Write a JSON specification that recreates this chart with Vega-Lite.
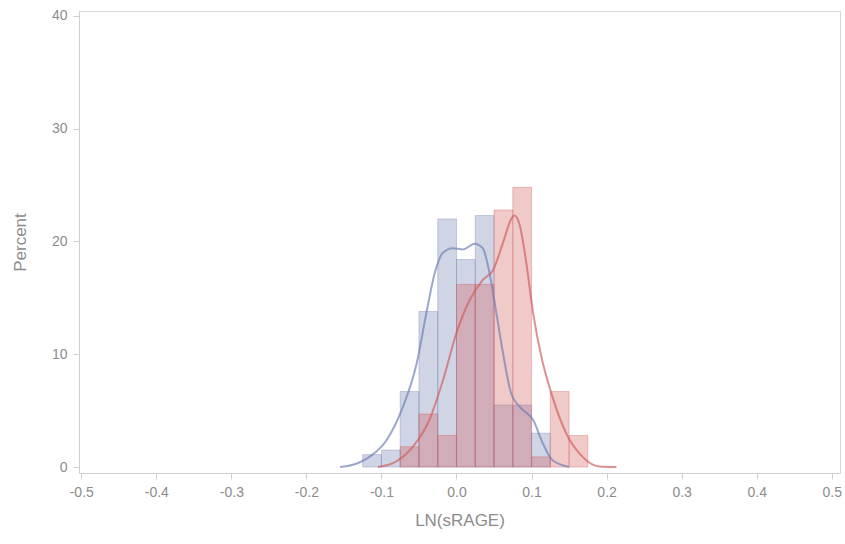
{
  "$schema": "https://vega.github.io/schema/vega-lite/v6.json",
  "width": 761,
  "height": 462,
  "autosize": {"type": "none"},
  "padding": {"left": 79, "top": 11, "right": 5, "bottom": 71},
  "background": "white",
  "config": {
    "view": {"stroke": "#d6d6d6", "strokeWidth": 1},
    "axis": {
      "grid": false,
      "labelColor": "#8c8c8c",
      "titleColor": "#8c8c8c",
      "tickColor": "#cfcfcf",
      "domainColor": "#cfcfcf",
      "labelFont": "Liberation Sans",
      "titleFont": "Liberation Sans",
      "labelFontSize": 14,
      "titleFontSize": 17,
      "titleFontWeight": "normal",
      "tickSize": 6,
      "labelPadding": 6
    }
  },
  "datasets": {
    "bars": [
      {"group": "Group 1", "start": -0.125, "end": -0.1, "pct": 1.1},
      {"group": "Group 1", "start": -0.1, "end": -0.075, "pct": 1.5},
      {"group": "Group 1", "start": -0.075, "end": -0.05, "pct": 6.7},
      {"group": "Group 1", "start": -0.05, "end": -0.025, "pct": 13.8},
      {"group": "Group 1", "start": -0.025, "end": 0.0, "pct": 22.0},
      {"group": "Group 1", "start": 0.0, "end": 0.025, "pct": 18.4},
      {"group": "Group 1", "start": 0.025, "end": 0.05, "pct": 22.3},
      {"group": "Group 1", "start": 0.05, "end": 0.075, "pct": 5.5},
      {"group": "Group 1", "start": 0.075, "end": 0.1, "pct": 5.5},
      {"group": "Group 1", "start": 0.1, "end": 0.125, "pct": 3.0},
      {"group": "Group 2", "start": -0.075, "end": -0.05, "pct": 1.8},
      {"group": "Group 2", "start": -0.05, "end": -0.025, "pct": 4.7},
      {"group": "Group 2", "start": -0.025, "end": 0.0, "pct": 2.8},
      {"group": "Group 2", "start": 0.0, "end": 0.025, "pct": 16.2},
      {"group": "Group 2", "start": 0.025, "end": 0.05, "pct": 16.2},
      {"group": "Group 2", "start": 0.05, "end": 0.075, "pct": 22.8},
      {"group": "Group 2", "start": 0.075, "end": 0.1, "pct": 24.8},
      {"group": "Group 2", "start": 0.1, "end": 0.125, "pct": 0.9},
      {"group": "Group 2", "start": 0.125, "end": 0.15, "pct": 6.7},
      {"group": "Group 2", "start": 0.15, "end": 0.175, "pct": 2.8}
    ],
    "curves": [
      {"group": "Group 1", "x": -0.155, "y": 0.0},
      {"group": "Group 1", "x": -0.138, "y": 0.2},
      {"group": "Group 1", "x": -0.116, "y": 0.9},
      {"group": "Group 1", "x": -0.093, "y": 2.4},
      {"group": "Group 1", "x": -0.071, "y": 5.4},
      {"group": "Group 1", "x": -0.053, "y": 9.2},
      {"group": "Group 1", "x": -0.04, "y": 13.7},
      {"group": "Group 1", "x": -0.029, "y": 17.2},
      {"group": "Group 1", "x": -0.018, "y": 19.0},
      {"group": "Group 1", "x": -0.005, "y": 19.4},
      {"group": "Group 1", "x": 0.009, "y": 19.3},
      {"group": "Group 1", "x": 0.024, "y": 19.8},
      {"group": "Group 1", "x": 0.035, "y": 19.4},
      {"group": "Group 1", "x": 0.044, "y": 17.2},
      {"group": "Group 1", "x": 0.053, "y": 13.7},
      {"group": "Group 1", "x": 0.062, "y": 10.1},
      {"group": "Group 1", "x": 0.073, "y": 6.5},
      {"group": "Group 1", "x": 0.088, "y": 5.1},
      {"group": "Group 1", "x": 0.102, "y": 4.2},
      {"group": "Group 1", "x": 0.115, "y": 2.1},
      {"group": "Group 1", "x": 0.128, "y": 0.6},
      {"group": "Group 1", "x": 0.15, "y": 0.0},
      {"group": "Group 2", "x": -0.105, "y": 0.0},
      {"group": "Group 2", "x": -0.08, "y": 0.5},
      {"group": "Group 2", "x": -0.058, "y": 1.8},
      {"group": "Group 2", "x": -0.036, "y": 4.2},
      {"group": "Group 2", "x": -0.018, "y": 7.7},
      {"group": "Group 2", "x": 0.0, "y": 11.9},
      {"group": "Group 2", "x": 0.0175, "y": 14.8},
      {"group": "Group 2", "x": 0.035, "y": 16.6},
      {"group": "Group 2", "x": 0.049, "y": 17.5},
      {"group": "Group 2", "x": 0.062, "y": 19.9},
      {"group": "Group 2", "x": 0.073, "y": 22.0},
      {"group": "Group 2", "x": 0.077, "y": 22.3},
      {"group": "Group 2", "x": 0.084, "y": 21.5},
      {"group": "Group 2", "x": 0.093, "y": 18.1},
      {"group": "Group 2", "x": 0.102, "y": 13.7},
      {"group": "Group 2", "x": 0.113, "y": 9.8},
      {"group": "Group 2", "x": 0.128, "y": 6.2},
      {"group": "Group 2", "x": 0.146, "y": 3.0},
      {"group": "Group 2", "x": 0.168, "y": 0.9},
      {"group": "Group 2", "x": 0.19, "y": 0.05},
      {"group": "Group 2", "x": 0.213, "y": 0.0}
    ]
  },
  "layer": [
    {
      "data": {"name": "bars"},
      "mark": {"type": "rect", "fillOpacity": 0.33, "strokeOpacity": 0.35, "strokeWidth": 1},
      "encoding": {
        "x": {
          "field": "start", "type": "quantitative",
          "scale": {"domain": [-0.503, 0.511], "nice": false, "zero": false},
          "axis": {
            "title": "LN(sRAGE)",
            "values": [-0.5, -0.4, -0.3, -0.2, -0.1, 0, 0.1, 0.2, 0.3, 0.4, 0.5],
            "labelExpr": "datum.value < 0 ? '-' + format(-datum.value, '.1f') : format(datum.value, '.1f')",
            "titlePadding": 13
          }
        },
        "x2": {"field": "end"},
        "y": {
          "field": "pct", "type": "quantitative",
          "scale": {"domain": [-0.53, 40.44], "nice": false, "zero": false},
          "axis": {"title": "Percent", "values": [0, 10, 20, 30, 40], "titlePadding": 22}
        },
        "y2": {"datum": 0},
        "color": {
          "field": "group", "type": "nominal",
          "scale": {"domain": ["Group 1", "Group 2"], "range": ["#6F7EB3", "#D05B5B"]},
          "legend": null
        },
        "stroke": {
          "field": "group", "type": "nominal",
          "scale": {"domain": ["Group 1", "Group 2"], "range": ["#6F7EB3", "#D05B5B"]},
          "legend": null
        }
      }
    },
    {
      "data": {"name": "curves"},
      "mark": {"type": "line", "strokeWidth": 2, "opacity": 0.68, "interpolate": "monotone"},
      "encoding": {
        "x": {"field": "x", "type": "quantitative"},
        "y": {"field": "y", "type": "quantitative"},
        "color": {"field": "group", "type": "nominal", "legend": null}
      }
    }
  ]
}
